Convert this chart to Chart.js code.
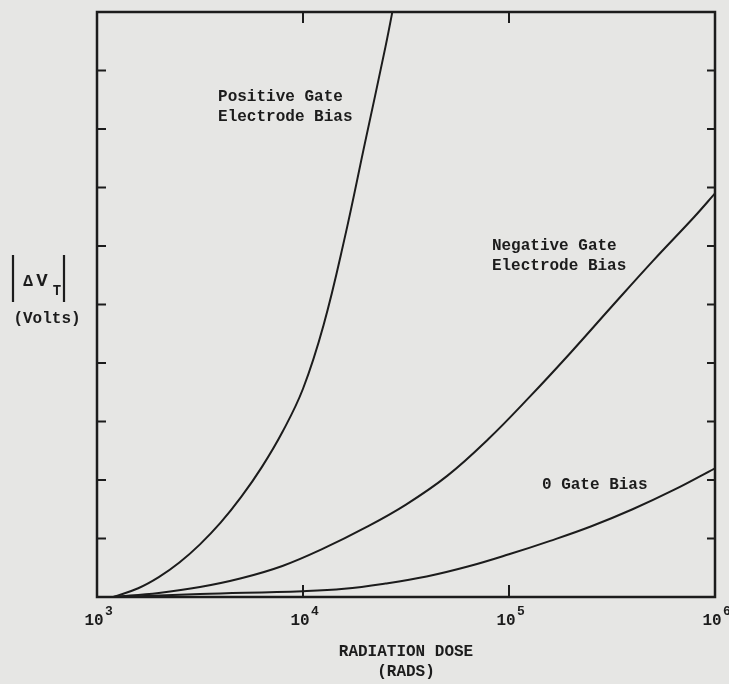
<!DOCTYPE html>
<html>
<head>
<meta charset="utf-8">
<script src="https://cdn.jsdelivr.net/npm/chart.js@4/dist/chart.umd.min.js"></script>
<style>
  html, body { margin: 0; padding: 0; background: #e6e6e4; }
</style>
</head>
<body>
<canvas id="chart" width="729" height="684"></canvas>
<script>
// radiation dose (rads) vs |delta Vt| (volts)
const positiveDose = [1200, 1585, 1995, 2512, 3162, 3981, 5012, 6310, 7943, 10000, 12589, 15849, 19953, 25119, 28184];
const positiveShift = [0, 0.15, 0.34, 0.59, 0.9, 1.27, 1.71, 2.22, 2.82, 3.56, 4.65, 6.1, 7.75, 9.4, 10.3];

const negativeDose = [1200, 1995, 3162, 5012, 7943, 12589, 19953, 31623, 50119, 79433, 125893, 199526, 316228, 501187, 794328, 1000000];
const negativeShift = [0, 0.07, 0.17, 0.32, 0.53, 0.83, 1.18, 1.58, 2.07, 2.7, 3.42, 4.18, 4.97, 5.75, 6.5, 6.9];

const zeroDose = [1260, 3162, 10000, 15849, 25119, 39811, 63096, 100000, 158489, 251189, 398107, 630957, 1000000];
const zeroShift = [0, 0.05, 0.1, 0.14, 0.23, 0.35, 0.52, 0.73, 0.96, 1.21, 1.5, 1.83, 2.2];

const xTicks = [1000, 10000, 100000, 1000000];
const xTickExp = ['3', '4', '5', '6'];
const yTicks = [1, 2, 3, 4, 5, 6, 7, 8, 9];

const curveNotes = [
  { lines: ['Positive Gate', 'Electrode Bias'], dose: 3870, volts: 8.55 },
  { lines: ['Negative Gate', 'Electrode Bias'], dose: 82600, volts: 6.0 },
  { lines: ['0 Gate Bias'], dose: 144500, volts: 1.91 }
];

const ink = '#1c1c1c';
const font = 'bold 16px "Liberation Mono", monospace';

function toPoints(xs, ys) {
  return xs.map((x, i) => ({ x: x, y: ys[i] }));
}

function curve(label, xs, ys) {
  return {
    label: label,
    data: toPoints(xs, ys),
    borderColor: ink,
    borderWidth: 2,
    pointRadius: 0,
    fill: false,
    tension: 0.4
  };
}

const paperPlugin = {
  id: 'paper',
  beforeDraw(chart) {
    const ctx = chart.ctx;
    ctx.save();
    ctx.fillStyle = '#e6e6e4';
    ctx.fillRect(0, 0, chart.width, chart.height);
    ctx.restore();
  },
  afterDraw(chart) {
    const ctx = chart.ctx;
    const a = chart.chartArea;
    const xs = chart.scales.x;
    const ys = chart.scales.y;
    ctx.save();
    ctx.strokeStyle = ink;
    ctx.fillStyle = ink;

    // frame
    ctx.lineWidth = 2.5;
    ctx.strokeRect(a.left, a.top, a.right - a.left, a.bottom - a.top);

    // inward ticks
    ctx.lineWidth = 2;
    ctx.beginPath();
    yTicks.forEach(v => {
      const py = ys.getPixelForValue(v);
      ctx.moveTo(a.left, py); ctx.lineTo(a.left + 9, py);
      ctx.moveTo(a.right, py); ctx.lineTo(a.right - 8, py);
    });
    xTicks.slice(1, -1).forEach(v => {
      const px = xs.getPixelForValue(v);
      ctx.moveTo(px, a.bottom); ctx.lineTo(px, a.bottom - 12);
      ctx.moveTo(px, a.top); ctx.lineTo(px, a.top + 11);
    });
    ctx.stroke();

    // x tick labels 10^n
    ctx.textBaseline = 'middle';
    xTicks.forEach((v, i) => {
      const px = xs.getPixelForValue(v);
      ctx.font = font;
      ctx.textAlign = 'center';
      ctx.fillText('10', px - 3, a.bottom + 24);
      ctx.font = 'bold 13px "Liberation Mono", monospace';
      ctx.textAlign = 'left';
      ctx.fillText(xTickExp[i], px + 8, a.bottom + 15);
    });

    // x title
    ctx.font = font;
    ctx.textAlign = 'center';
    const cx = (a.left + a.right) / 2;
    ctx.fillText('RADIATION DOSE', cx, a.bottom + 55);
    ctx.fillText('(RADS)', cx, a.bottom + 75);

    // y title |ΔV_T| (Volts)
    ctx.lineWidth = 2.2;
    ctx.beginPath();
    ctx.moveTo(13, 255); ctx.lineTo(13, 302);
    ctx.moveTo(64, 255); ctx.lineTo(64, 302);
    ctx.stroke();
    ctx.font = 'bold 16px "Liberation Mono", monospace';
    ctx.textAlign = 'center';
    ctx.fillText('\u0394', 28, 282);
    ctx.font = 'bold 19px "Liberation Mono", monospace';
    ctx.fillText('V', 42, 281);
    ctx.font = 'bold 14px "Liberation Mono", monospace';
    ctx.fillText('T', 57, 291);
    ctx.font = font;
    ctx.fillText('(Volts)', 47, 319);

    // curve labels
    ctx.textAlign = 'left';
    curveNotes.forEach(n => {
      const px = xs.getPixelForValue(n.dose);
      const py = ys.getPixelForValue(n.volts);
      n.lines.forEach((t, k) => ctx.fillText(t, px, py + k * 20));
    });
    ctx.restore();
  }
};

new Chart(document.getElementById('chart'), {
  type: 'line',
  data: {
    datasets: [
      curve('Positive Gate Electrode Bias', positiveDose, positiveShift),
      curve('Negative Gate Electrode Bias', negativeDose, negativeShift),
      curve('0 Gate Bias', zeroDose, zeroShift)
    ]
  },
  options: {
    responsive: false,
    animation: false,
    layout: { padding: { left: 97, right: 14, top: 12, bottom: 87 } },
    plugins: {
      legend: { display: false },
      tooltip: { enabled: false }
    },
    scales: {
      x: { type: 'logarithmic', min: 1000, max: 1000000, display: false },
      y: { type: 'linear', min: 0, max: 10, display: false }
    }
  },
  plugins: [paperPlugin]
});
</script>
</body>
</html>
